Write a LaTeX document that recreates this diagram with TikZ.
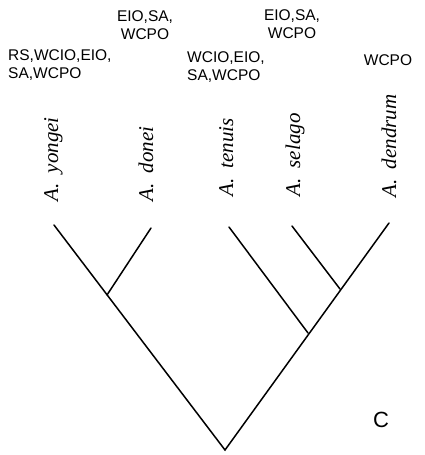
\documentclass[tikz,border=0pt]{standalone}
\usepackage{fontspec}
\newfontfamily\locfont{Liberation Sans}
\newfontfamily\spfont{Liberation Serif}
\begin{document}
\begin{tikzpicture}[x=1pt,y=-1pt,
  branch/.style={line width=1.5pt, line cap=round},
  species/.style={rotate=90, anchor=base west, inner sep=0pt, font=\spfont\itshape\fontsize{21}{25}\selectfont},
  loc/.style={inner sep=0pt, font=\locfont\fontsize{15.5}{18}\selectfont}]
\useasboundingbox (0,0) rectangle (424,455);
% tree
\coordinate (ty) at (54,225);
\coordinate (td) at (151,228);
\coordinate (tt) at (229,227);
\coordinate (ts) at (292,226);
\coordinate (tde) at (389,223);
\coordinate (j1) at (107,295);
\coordinate (j2) at (340,289);
\coordinate (j3) at (308,333);
\coordinate (root) at (225,450);
\draw[branch] (ty) -- (root) -- (tde);
\draw[branch] (td) -- (j1);
\draw[branch] (tt) -- (j3);
\draw[branch] (ts) -- (j2);
% species
\node[species] (sy) at (58,202) {A.\hspace{0.5em}yongei};
\node[species] (sd) at (153,202) {A.\hspace{0.5em}donei};
\node[species] (st) at (233,197) {A.\hspace{0.5em}tenuis};
\node[species] (ss) at (300,197) {A.\hspace{0.5em}selago};
\node[species] (sde) at (396,198) {A.\hspace{0.5em}dendrum};
% locations
\node[loc, anchor=base west] (ly) at (8,60) {\begin{tabular}[t]{@{}l@{}}RS,WCIO,EIO,\\SA,WCPO\end{tabular}};
\node[loc, anchor=base] (ld) at (145,21) {\begin{tabular}[t]{@{}c@{}}EIO,SA,\\WCPO\end{tabular}};
\node[loc, anchor=base west] (lt) at (187,62) {\begin{tabular}[t]{@{}l@{}}WCIO,EIO,\\SA,WCPO\end{tabular}};
\node[loc, anchor=base] (ls) at (292,20) {\begin{tabular}[t]{@{}c@{}}EIO,SA,\\WCPO\end{tabular}};
\node[loc, anchor=base] (lde) at (388,65) {WCPO};
% panel letter
\node[inner sep=0pt, anchor=base, font=\locfont\fontsize{22}{26}\selectfont] (c) at (381,427) {C};
\end{tikzpicture}
\end{document}
